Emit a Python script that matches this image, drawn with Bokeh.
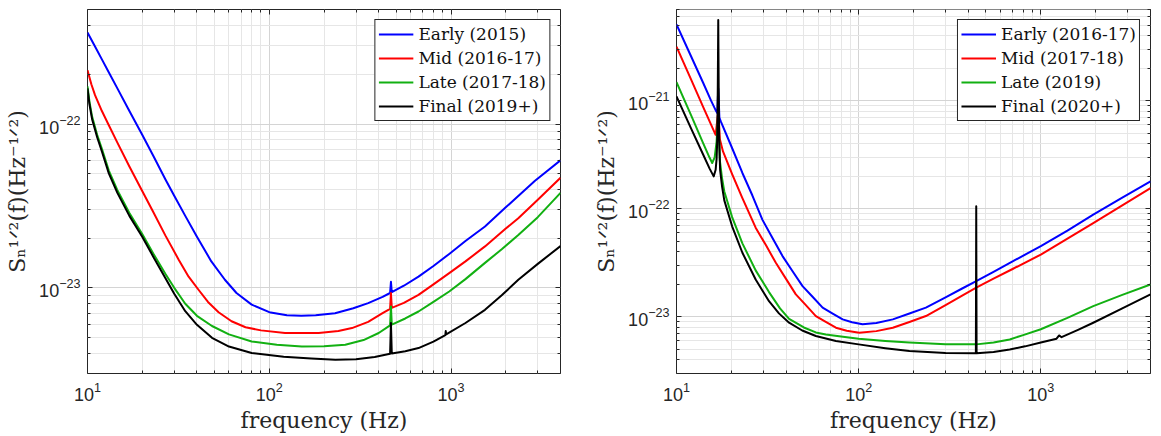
from bokeh.plotting import figure
from bokeh.layouts import row
from bokeh.models import (Range1d, FixedTicker, LogAxis, LogTickFormatter,
                          CustomJSTickFormatter, Legend, LegendItem)
from bokeh.embed import file_html
from bokeh.resources import INLINE

# ---------------- data ----------------
X_LO, X_HI = 10, 4000
X_MAJOR = [10, 100, 1000]

# left panel (aLIGO)
L_Y_LO, L_Y_HI = 3e-24, 5e-22
L_Y_MAJOR = [1e-23, 1e-22]
L_LABELS = ["Early (2015)", "Mid (2016-17)", "Late (2017-18)", "Final (2019+)"]

L_early_f = [10, 11, 12, 13, 14.6, 17, 20, 23, 26.8, 30, 34.5, 40, 48, 57, 66, 80, 100, 125,
             150, 180, 230, 290, 350, 420, 462, 467, 472, 550, 662, 800, 977, 1200, 1537,
             2000, 2896, 4000]
L_early_s = [3.62e-22, 2.97e-22, 2.48e-22, 2.10e-22, 1.65e-22, 1.20e-22, 8.6e-23, 6.4e-23,
             4.6e-23, 3.65e-23, 2.75e-23, 2.05e-23, 1.45e-23, 1.12e-23, 9.3e-24, 7.9e-24,
             7.1e-24, 6.8e-24, 6.75e-24, 6.8e-24, 7.0e-24, 7.5e-24, 8.07e-24, 8.8e-24,
             9.3e-24, 1.09e-23, 9.4e-24, 1.03e-23, 1.17e-23, 1.36e-23, 1.61e-23, 1.93e-23,
             2.37e-23, 3.1e-23, 4.5e-23, 6.0e-23]

L_mid_f = [10, 10.5, 11, 12, 13, 14.6, 17, 20, 23, 26.8, 31.8, 36, 40.9, 46, 52.6, 62, 74, 90,
           122, 187, 240, 285, 350, 420, 462, 467, 472, 550, 662, 800, 977, 1200, 1537, 2000,
           2344, 3000, 4000]
L_mid_s = [2.13e-22, 1.75e-22, 1.50e-22, 1.20e-22, 1.0e-22, 7.7e-23, 5.5e-23, 3.9e-23, 2.9e-23,
           2.09e-23, 1.48e-23, 1.17e-23, 9.7e-24, 8.2e-24, 7.1e-24, 6.25e-24, 5.75e-24, 5.5e-24,
           5.3e-24, 5.3e-24, 5.45e-24, 5.68e-24, 6.2e-24, 7.0e-24, 7.45e-24, 9.3e-24, 7.55e-24,
           8.1e-24, 9.06e-24, 1.05e-23, 1.23e-23, 1.45e-23, 1.79e-23, 2.3e-23, 2.66e-23,
           3.45e-23, 4.7e-23]

L_late_f = [10, 10.25, 10.6, 11.3, 12, 13.1, 14.6, 17, 20, 23, 26.8, 30, 34.5, 40, 48.4, 60, 80,
            110, 151, 200, 262, 330, 400, 462, 467, 472, 560, 662, 800, 977, 1200, 1537, 1900,
            2344, 3000, 4000]
L_late_s = [1.7e-22, 1.37e-22, 1.11e-22, 8.6e-23, 7.05e-23, 5.2e-23, 3.95e-23, 2.86e-23,
            2.13e-23, 1.62e-23, 1.22e-23, 1.0e-23, 8.0e-24, 6.75e-24, 5.85e-24, 5.2e-24, 4.7e-24,
            4.5e-24, 4.39e-24, 4.4e-24, 4.49e-24, 4.8e-24, 5.3e-24, 5.9e-24, 7.7e-24, 5.97e-24,
            6.5e-24, 7.17e-24, 8.2e-24, 9.5e-24, 1.13e-23, 1.42e-23, 1.72e-23, 2.1e-23, 2.7e-23,
            3.8e-23]

L_final_f = [10, 10.25, 10.6, 11.3, 12, 13.1, 14.6, 17, 20, 23, 26.8, 30, 34.5, 40, 48.4, 60, 80,
             120, 170, 231, 300, 380, 462, 467, 472, 560, 662, 800, 930, 935, 940, 1200, 1537,
             1900, 2344, 3000, 4000]
L_final_s = [1.65e-22, 1.32e-22, 1.07e-22, 8.3e-23, 6.8e-23, 5.0e-23, 3.8e-23, 2.75e-23,
             2.05e-23, 1.55e-23, 1.15e-23, 9.2e-24, 7.2e-24, 5.95e-24, 4.95e-24, 4.38e-24, 4.0e-24,
             3.8e-24, 3.7e-24, 3.64e-24, 3.66e-24, 3.78e-24, 3.96e-24, 6.1e-24, 3.97e-24, 4.1e-24,
             4.29e-24, 4.7e-24, 5.15e-24, 5.45e-24, 5.2e-24, 6.1e-24, 7.34e-24, 9.0e-24, 1.12e-23,
             1.4e-23, 1.8e-23]

# right panel (AdVirgo)
R_Y_LO, R_Y_HI = 3e-24, 7e-21
R_Y_MAJOR = [1e-23, 1e-22, 1e-21]
R_LABELS = ["Early (2016-17)", "Mid (2017-18)", "Late (2019)", "Final (2020+)"]

R_early_f = [10, 12, 14, 15.5, 16.4, 16.75, 16.95, 17.2, 17.5, 20, 23, 26.1, 29.6, 33, 38.2, 43,
             49.2, 56, 63.4, 72, 81.7, 92, 105, 125, 154, 190, 234, 300, 370, 442, 550, 700,
             1000, 1400, 1940, 2800, 4000]
R_early_s = [5.1e-21, 2.6e-21, 1.47e-21, 1.0e-21, 8.2e-22, 7.7e-22, 1.3e-21, 7.0e-22, 6.45e-22,
             3.8e-22, 2.15e-22, 1.33e-22, 7.96e-23, 5.7e-23, 3.66e-23, 2.71e-23, 1.93e-23,
             1.53e-23, 1.22e-23, 1.076e-23, 9.5e-24, 8.95e-24, 8.55e-24, 8.8e-24, 9.5e-24,
             1.077e-23, 1.22e-23, 1.52e-23, 1.835e-23, 2.15e-23, 2.62e-23, 3.27e-23, 4.52e-23,
             6.3e-23, 8.85e-23, 1.27e-22, 1.8e-22]

R_mid_f = [10, 12, 14, 15.5, 16.4, 16.95, 17.3, 18, 20.2, 23, 27.2, 31, 35.1, 40, 45.2, 51, 58.2,
           66, 75, 86, 100.7, 125, 154, 190, 234, 300, 370, 442, 550, 700, 1000, 1400, 1940,
           2800, 4000]
R_mid_s = [3.17e-21, 1.59e-21, 8.8e-22, 6.0e-22, 4.85e-22, 8.0e-22, 4.4e-22, 3.4e-22, 2.1e-22,
           1.26e-22, 6.7e-23, 4.6e-23, 3.17e-23, 2.24e-23, 1.62e-23, 1.3e-23, 1.02e-23, 9.0e-24,
           7.96e-24, 7.45e-24, 7.16e-24, 7.4e-24, 7.96e-24, 9.0e-24, 1.02e-23, 1.29e-23,
           1.58e-23, 1.87e-23, 2.26e-23, 2.78e-23, 3.78e-23, 5.3e-23, 7.4e-23, 1.08e-22, 1.56e-22]

R_late_f = [10, 12, 14, 15.2, 15.7, 16.2, 16.6, 16.95, 17.3, 17.8, 18.3, 20.2, 23, 27.2, 32.2, 37,
            41.5, 50, 58.2, 66, 80, 100, 140, 190, 300, 442, 550, 675, 800, 1000, 1400, 1940,
            2800, 4000]
R_late_s = [1.49e-21, 7.4e-22, 4.07e-22, 2.97e-22, 2.66e-22, 3.0e-22, 4.2e-22, 8.0e-22, 2.8e-22,
            1.9e-22, 1.45e-22, 8.4e-23, 4.8e-23, 2.7e-23, 1.7e-23, 1.2e-23, 9.6e-24, 8.0e-24,
            7.2e-24, 6.9e-24, 6.6e-24, 6.3e-24, 6.0e-24, 5.8e-24, 5.6e-24, 5.58e-24, 5.8e-24,
            6.2e-24, 6.8e-24, 7.7e-24, 9.8e-24, 1.26e-23, 1.6e-23, 2.0e-23]

R_final_f = [10, 12, 14, 15.2, 16.0, 16.4, 16.6, 16.75, 16.85, 16.95, 17.05, 17.15, 17.35, 17.8,
             18.3, 20.2, 23, 27.2, 32.2, 36.5, 41.5, 49, 58.2, 75, 100, 140, 190, 300, 440, 442,
             444, 550, 675, 820, 1000, 1220, 1260, 1300, 1600, 1940, 2800, 4000]
R_final_s = [1.1e-21, 5.6e-22, 3.19e-22, 2.36e-22, 2.0e-22, 2.3e-22, 2.9e-22, 4.5e-22, 1.3e-21,
             5.6e-21, 1.3e-21, 4.5e-22, 2.3e-22, 1.6e-22, 1.2e-22, 6.9e-23, 3.93e-23, 2.22e-23,
             1.4e-23, 1.08e-23, 8.85e-24, 7.5e-24, 6.67e-24, 6.0e-24, 5.58e-24, 5.15e-24,
             4.84e-24, 4.65e-24, 4.61e-24, 1.06e-22, 4.61e-24, 4.75e-24, 5.0e-24, 5.35e-24,
             5.8e-24, 6.3e-24, 6.75e-24, 6.5e-24, 7.6e-24, 8.85e-24, 1.2e-23, 1.62e-23]

COLORS = ["#0000ff", "#ff0000", "#12b012", "#000000"]
X_LABEL = "frequency (Hz)"
Y_LABEL = "Sₙ¹ᐟ²(f)(Hz⁻¹ᐟ²)"

# ---------------- styling helpers ----------------
INK = "#262626"


def minor_ticks(lo, hi):
    out = []
    e = -30
    while 10.0 ** e <= hi:
        for m in range(2, 10):
            v = m * 10.0 ** e
            if lo <= v <= hi:
                out.append(v)
        e += 1
    return out


def style_axis(ax, show_labels=True):
    ax.axis_line_color = None
    ax.major_tick_in = 5
    ax.major_tick_out = 0
    ax.minor_tick_in = 3
    ax.minor_tick_out = 0
    ax.major_tick_line_color = INK
    ax.minor_tick_line_color = INK
    if show_labels:
        ax.major_label_text_font = "Liberation Sans"
        ax.major_label_text_font_size = "18px"
        ax.major_label_text_color = INK
        ax.axis_label_text_font = "DejaVu Serif"
        ax.axis_label_text_font_size = "22px"
        ax.axis_label_text_font_style = "normal"
        ax.axis_label_text_color = INK


def make_panel(width, bl, br, y_lo, y_hi, y_major, series, labels):
    p = figure(width=width, height=436, x_axis_type="log", y_axis_type="log",
               x_range=Range1d(X_LO, X_HI), y_range=Range1d(y_lo, y_hi),
               min_border_left=bl, min_border_right=br, min_border_top=9,
               min_border_bottom=63, output_backend="svg", toolbar_location=None)
    xt = FixedTicker(ticks=X_MAJOR, minor_ticks=minor_ticks(X_LO, X_HI))
    yt = FixedTicker(ticks=y_major, minor_ticks=minor_ticks(y_lo, y_hi))
    p.xaxis.ticker = xt
    p.yaxis.ticker = yt
    p.xgrid.ticker = xt
    p.ygrid.ticker = yt
    p.xaxis.formatter = LogTickFormatter()
    p.yaxis.formatter = LogTickFormatter()
    style_axis(p.xaxis[0])
    style_axis(p.yaxis[0])
    p.xaxis.axis_label = X_LABEL
    p.yaxis.axis_label = Y_LABEL
    p.xaxis.major_label_standoff = 8
    p.xaxis.axis_label_standoff = 4
    p.yaxis.major_label_standoff = 7
    p.yaxis.axis_label_standoff = 6

    for loc, t in (("above", xt), ("right", yt)):
        ax = LogAxis(ticker=t, formatter=CustomJSTickFormatter(code="return ''"),
                     major_label_text_font_size="0px", major_label_standoff=0)
        style_axis(ax, show_labels=False)
        p.add_layout(ax, loc)

    p.grid.grid_line_color = "#d4d4d4"
    p.grid.grid_line_width = 1
    p.grid.minor_grid_line_color = "#e6e6e6"
    p.grid.minor_grid_line_width = 1
    p.outline_line_color = INK
    p.outline_line_width = 1
    p.outline_line_alpha = 1
    p.background_fill_color = "white"
    p.border_fill_color = "white"

    items = []
    for (f, s), c, lab in zip(series, COLORS, labels):
        r = p.line(x=f, y=s, line_color=c, line_width=2, line_join="round")
        items.append(LegendItem(label=lab, renderers=[r]))
    leg = Legend(items=items, location="top_right", margin=10, padding=3, spacing=2,
                 glyph_width=35, glyph_height=22, label_height=22, label_standoff=5,
                 label_text_font="DejaVu Serif", label_text_font_size="17px",
                 label_text_color="#111111", border_line_color=INK, border_line_width=1,
                 border_line_alpha=1, background_fill_color="white", background_fill_alpha=1)
    p.add_layout(leg)
    return p


left = make_panel(580, 87, 20, L_Y_LO, L_Y_HI, L_Y_MAJOR,
                  [(L_early_f, L_early_s), (L_mid_f, L_mid_s),
                   (L_late_f, L_late_s), (L_final_f, L_final_s)], L_LABELS)
right = make_panel(581, 96, 11, R_Y_LO, R_Y_HI, R_Y_MAJOR,
                   [(R_early_f, R_early_s), (R_mid_f, R_mid_s),
                    (R_late_f, R_late_s), (R_final_f, R_final_s)], R_LABELS)

layout = row(left, right)
open("out.html", "w").write(file_html(layout, INLINE))
